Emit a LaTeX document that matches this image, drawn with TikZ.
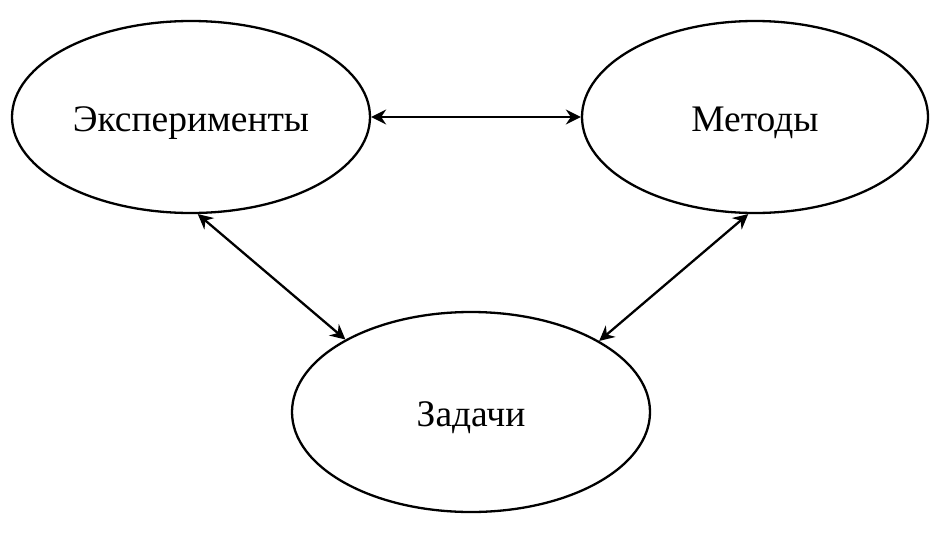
\documentclass[tikz,border=0pt]{standalone}
\usepackage{fontspec}
\setmainfont{Liberation Serif}
\usetikzlibrary{shapes.geometric,arrows.meta}
\newcommand{\lowtext}[1]{\raisebox{-6pt}[\height][\depth]{#1}}
\begin{document}
\begin{tikzpicture}[x=1pt,y=-1pt,
  oval/.style={draw, ellipse, line width=2.3pt, inner sep=0pt, font=\fontsize{37.5}{44}\selectfont},
  link/.style={line width=2.3pt, {Stealth[length=15pt,width=15pt,inset=5pt]}-{Stealth[length=15pt,width=15pt,inset=5pt]}}]
\useasboundingbox (0,0) rectangle (941,538);
\node[oval, minimum width=358pt, minimum height=192pt] (e) at (191,117) {\lowtext{Эксперименты}};
\node[oval, minimum width=346pt, minimum height=192pt] (m) at (755,117) {\lowtext{Методы}};
\node[oval, minimum width=358pt, minimum height=200pt] (z) at (471,412) {\lowtext{Задачи}};
\draw[link] (e.east) -- (m.west);
\draw[link] (e.-86) -- (z.150.6);
\draw[link] (m.-94) -- (z.29.2);
\end{tikzpicture}
\end{document}
